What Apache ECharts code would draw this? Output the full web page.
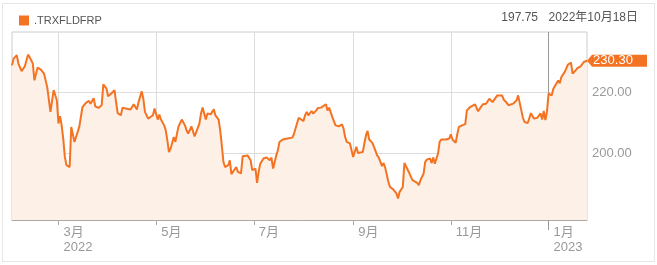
<!DOCTYPE html>
<html>
<head>
<meta charset="utf-8">
<script src="https://cdn.jsdelivr.net/npm/echarts@6/dist/echarts.min.js"></script>
<style>
html,body{margin:0;padding:0;background:#fff;}
#wrap{position:relative;width:657px;height:265px;}
#chart{position:absolute;left:0;top:0;width:657px;height:265px;}
#frame{position:absolute;left:2px;top:3px;width:651px;height:257px;border:1px solid #e6e6e6;pointer-events:none;}
</style>
</head>
<body>
<div id="wrap"><div id="frame"></div><div id="chart"></div></div>
<script>
const seriesName = '.TRXFLDFRP';
const dates = [
'2022-01-31','2022-02-01','2022-02-03','2022-02-04','2022-02-06','2022-02-08','2022-02-09','2022-02-10','2022-02-11','2022-02-13',
'2022-02-14','2022-02-16','2022-02-18','2022-02-20','2022-02-22','2022-02-23','2022-02-24','2022-02-26','2022-02-28','2022-03-01',
'2022-03-02','2022-03-03','2022-03-04','2022-03-05','2022-03-06','2022-03-08','2022-03-09','2022-03-11','2022-03-12','2022-03-14',
'2022-03-15','2022-03-16','2022-03-18','2022-03-20','2022-03-21','2022-03-23','2022-03-24','2022-03-26','2022-03-28','2022-03-29',
'2022-03-31','2022-04-01','2022-04-03','2022-04-05','2022-04-06','2022-04-07','2022-04-09','2022-04-10','2022-04-12','2022-04-13',
'2022-04-15','2022-04-17','2022-04-18','2022-04-19','2022-04-20','2022-04-22','2022-04-23','2022-04-24','2022-04-26','2022-04-27',
'2022-04-29','2022-04-30','2022-05-02','2022-05-03','2022-05-04','2022-05-06','2022-05-07','2022-05-08','2022-05-09','2022-05-10',
'2022-05-12','2022-05-13','2022-05-14','2022-05-15','2022-05-16','2022-05-17','2022-05-19','2022-05-20','2022-05-21','2022-05-22',
'2022-05-23','2022-05-25','2022-05-26','2022-05-28','2022-05-29','2022-05-30','2022-05-31','2022-06-01','2022-06-02','2022-06-04',
'2022-06-06','2022-06-07','2022-06-09','2022-06-10','2022-06-11','2022-06-12','2022-06-13','2022-06-15','2022-06-16','2022-06-17',
'2022-06-18','2022-06-20','2022-06-21','2022-06-23','2022-06-24','2022-06-25','2022-06-27','2022-06-28','2022-06-29','2022-06-30',
'2022-07-01','2022-07-02','2022-07-03','2022-07-04','2022-07-05','2022-07-07','2022-07-08','2022-07-09','2022-07-11','2022-07-12',
'2022-07-13','2022-07-15','2022-07-16','2022-07-17','2022-07-19','2022-07-20','2022-07-22','2022-07-23','2022-07-25','2022-07-26',
'2022-07-27','2022-07-29','2022-07-30','2022-08-01','2022-08-02','2022-08-03','2022-08-04','2022-08-06','2022-08-07','2022-08-08',
'2022-08-09','2022-08-10','2022-08-12','2022-08-13','2022-08-15','2022-08-16','2022-08-17','2022-08-18','2022-08-19','2022-08-21',
'2022-08-22','2022-08-23','2022-08-25','2022-08-26','2022-08-27','2022-08-28','2022-08-30','2022-08-31','2022-09-01','2022-09-03',
'2022-09-04','2022-09-05','2022-09-07','2022-09-08','2022-09-09','2022-09-10','2022-09-11','2022-09-13','2022-09-14','2022-09-16',
'2022-09-17','2022-09-18','2022-09-19','2022-09-20','2022-09-21','2022-09-23','2022-09-24','2022-09-26','2022-09-27','2022-09-28',
'2022-09-29','2022-09-30','2022-10-02','2022-10-03','2022-10-05','2022-10-06','2022-10-08','2022-10-09','2022-10-11','2022-10-12',
'2022-10-13','2022-10-15','2022-10-16','2022-10-17','2022-10-18','2022-10-19','2022-10-20','2022-10-21','2022-10-22','2022-10-24',
'2022-10-25','2022-10-26','2022-10-27','2022-10-29','2022-10-30','2022-10-31','2022-11-01','2022-11-02','2022-11-04','2022-11-05',
'2022-11-06','2022-11-08','2022-11-09','2022-11-10','2022-11-11','2022-11-13','2022-11-14','2022-11-16','2022-11-17','2022-11-18',
'2022-11-20','2022-11-21','2022-11-23','2022-11-24','2022-11-25','2022-11-27','2022-11-28','2022-11-30','2022-12-01','2022-12-03',
'2022-12-04','2022-12-06','2022-12-07','2022-12-08','2022-12-10','2022-12-11','2022-12-12','2022-12-13','2022-12-14','2022-12-15',
'2022-12-16','2022-12-17','2022-12-19','2022-12-20','2022-12-21','2022-12-22','2022-12-23','2022-12-25','2022-12-26','2022-12-27',
'2022-12-28','2022-12-29','2022-12-30','2022-12-31','2023-01-01','2023-01-03','2023-01-04','2023-01-06','2023-01-07','2023-01-08',
'2023-01-09','2023-01-11','2023-01-12','2023-01-13','2023-01-15','2023-01-16','2023-01-18','2023-01-19','2023-01-21','2023-01-22',
'2023-01-23','2023-01-25'
];
const values = [
228.8,231.0,232.1,229.4,226.9,228.5,229.0,232.3,231.5,229.4,
223.9,228.1,227.4,226.1,221.7,221.2,213.6,220.7,217.4,209.8,
212.2,209.2,204.9,198.9,196.2,195.6,208.7,203.8,205.4,208.7,
208.9,215.2,216.5,217.2,216.3,218.1,215.4,214.9,215.8,222.6,
221.2,218.7,219.6,220.7,216.8,213.2,212.5,215.0,214.7,214.1,
214.4,216.1,215.8,214.4,216.8,220.3,217.9,213.6,211.4,211.1,
212.5,214.7,211.1,212.7,211.1,209.2,207.6,204.3,200.5,201.6,
205.4,203.8,206.5,208.9,208.7,211.1,209.2,207.6,206.5,207.6,
208.9,205.6,207.0,209.8,213.1,215.0,215.2,211.1,213.1,212.8,
214.5,212.5,211.1,207.6,202.7,197.3,195.6,196.2,197.8,193.3,
193.5,195.6,194.0,193.5,199.1,198.9,199.4,199.8,197.8,194.6,
194.8,195.1,190.4,194.0,196.7,198.4,198.0,198.7,197.8,198.7,
195.1,199.4,201.1,203.8,204.6,204.9,204.9,205.4,205.2,206.3,
208.2,211.7,211.4,210.6,212.5,213.6,212.5,213.9,213.1,213.6,
214.1,214.9,215.0,215.4,216.1,214.1,215.0,214.4,211.9,209.2,
208.7,208.9,209.5,208.2,205.4,203.8,203.3,201.1,198.9,202.2,
200.2,200.2,200.5,203.3,206.0,207.4,204.6,203.5,202.2,199.4,
198.7,198.4,195.9,196.9,195.4,190.7,189.1,188.3,188.0,187.0,
185.3,187.5,189.1,196.9,194.8,193.7,191.3,190.7,190.4,189.7,
191.3,193.5,197.3,198.0,197.75,198.4,196.9,198.7,196.7,200.0,
203.8,204.6,204.3,204.6,205.2,204.9,206.3,204.6,203.5,206.3,
208.7,209.2,209.8,209.6,214.1,215.2,215.0,216.1,215.0,213.8,
215.4,216.1,216.3,217.1,217.9,216.8,217.4,219.0,219.6,219.0,
217.6,216.5,215.8,215.4,216.3,215.8,217.4,219.0,218.5,214.1,
211.7,210.3,210.0,209.8,213.2,212.2,211.4,211.7,211.4,213.1,
211.1,213.9,210.9,213.6,219.6,219.0,221.2,223.0,223.9,223.0,
225.0,226.6,227.7,229.0,229.7,226.1,227.2,227.9,228.5,228.8,
229.9,230.30
];
const xTickDates = ['2022-03-01','2022-05-01','2022-07-01','2022-09-01','2022-11-01','2023-01-01'];
const yTickValues = [200, 220];
const yRange = [178.3, 239.7];
const hoverDate = '2022-10-18';

function ts(s) { const p = s.split('-').map(Number); return new Date(p[0], p[1] - 1, p[2]).getTime(); }
const hoverValue = values[dates.indexOf(hoverDate)];
const hoverParts = hoverDate.split('-');
const hoverText = `${hoverParts[0]}年${+hoverParts[1]}月${+hoverParts[2]}日`;
const xTickTs = xTickDates.map(ts);
const yearTicks = xTickDates.filter(d => d.slice(5) === '01-01').map(ts);
const monthTicks = xTickDates.filter(d => d.slice(5) !== '01-01').map(ts);
const xMin = ts(dates[0]);
const xMax = ts(dates[dates.length - 1]);
const lastValue = values[values.length - 1];

const FONT = '"Liberation Sans", Arial, "Noto Sans CJK JP", sans-serif';
const ORANGE = '#f47322';

const chart = echarts.init(document.getElementById('chart'), null, {renderer: 'canvas'});
chart.setOption({
  animation: false,
  textStyle: {fontFamily: FONT},
  title: [
    {text: hoverText, right: 19, top: 12, padding: 0, textStyle: {fontSize: 12, fontWeight: 'normal', color: '#555', fontFamily: FONT}},
    {text: hoverValue.toFixed(2), right: 119, top: 12, padding: 0, textStyle: {fontSize: 12, fontWeight: 'normal', color: '#555', fontFamily: FONT}}
  ],
  legend: {
    left: 19, top: 15, padding: 0, icon: 'rect', itemWidth: 10, itemHeight: 10, itemGap: 6,
    data: [seriesName],
    textStyle: {fontSize: 11, color: '#555', fontFamily: FONT}
  },
  grid: {left: 12, right: 70, top: 32, bottom: 45, show: true, borderColor: '#cccccc', borderWidth: 1, outerBoundsMode: 'none', containLabel: false},
  xAxis: [
    {
      type: 'value', min: xMin, max: xMax, scale: true,
      axisLine: {show: true, onZero: false, lineStyle: {color: '#aaaaaa', width: 1}},
      axisTick: {show: true, customValues: monthTicks, length: 5, lineStyle: {color: '#aaaaaa'}},
      splitLine: {show: true, lineStyle: {color: '#dddddd', width: 1}},
      axisLabel: {
        show: true, customValues: xTickTs, align: 'left', padding: [0, 0, 0, 5],
        margin: 5, lineHeight: 15, fontSize: 13, color: '#999999', fontFamily: FONT, hideOverlap: false,
        showMinLabel: true, showMaxLabel: true,
        formatter: function (val) {
          const d = new Date(val);
          const m = d.getMonth() + 1;
          return (val === xTickTs[0] || m === 1) ? `${m}月\n${d.getFullYear()}` : `${m}月`;
        }
      }
    },
    {
      type: 'value', min: xMin, max: xMax, scale: true, gridIndex: 0, position: 'bottom',
      axisLine: {show: false, onZero: false},
      axisLabel: {show: false},
      axisTick: {show: true, customValues: yearTicks, length: 10, lineStyle: {color: '#999999'}},
      splitLine: {show: true, lineStyle: {color: '#999999', width: 1}}
    }
  ],
  yAxis: {
    type: 'value', position: 'right', min: yRange[0], max: yRange[1], scale: true,
    axisLine: {show: false},
    axisTick: {show: false, customValues: yTickValues},
    splitLine: {show: true, lineStyle: {color: '#dddddd', width: 1}},
    axisLabel: {
      show: true, customValues: yTickValues, margin: 5, fontSize: 13, color: '#999999', fontFamily: FONT,
      formatter: v => v.toFixed(2)
    }
  },
  series: [{
    name: seriesName,
    type: 'line',
    data: dates.map((d, i) => [ts(d), values[i]]),
    showSymbol: false,
    symbol: 'none',
    clip: false,
    lineStyle: {color: ORANGE, width: 2},
    itemStyle: {color: ORANGE},
    areaStyle: {color: '#fdf0e7', opacity: 1},
    markPoint: {
      silent: true,
      symbol: 'path://M0,6 L5,0 L60,0 L60,12 L5,12 Z',
      symbolSize: [60, 12],
      symbolOffset: [30, 0],
      symbolKeepAspect: false,
      itemStyle: {color: ORANGE},
      label: {show: true, position: 'inside', offset: [-4, 0], color: '#ffffff', fontSize: 13, fontFamily: FONT,
              formatter: p => p.value.toFixed(2)},
      data: [{coord: [xMax, lastValue], value: lastValue}]
    }
  }]
});
</script>
</body>
</html>
